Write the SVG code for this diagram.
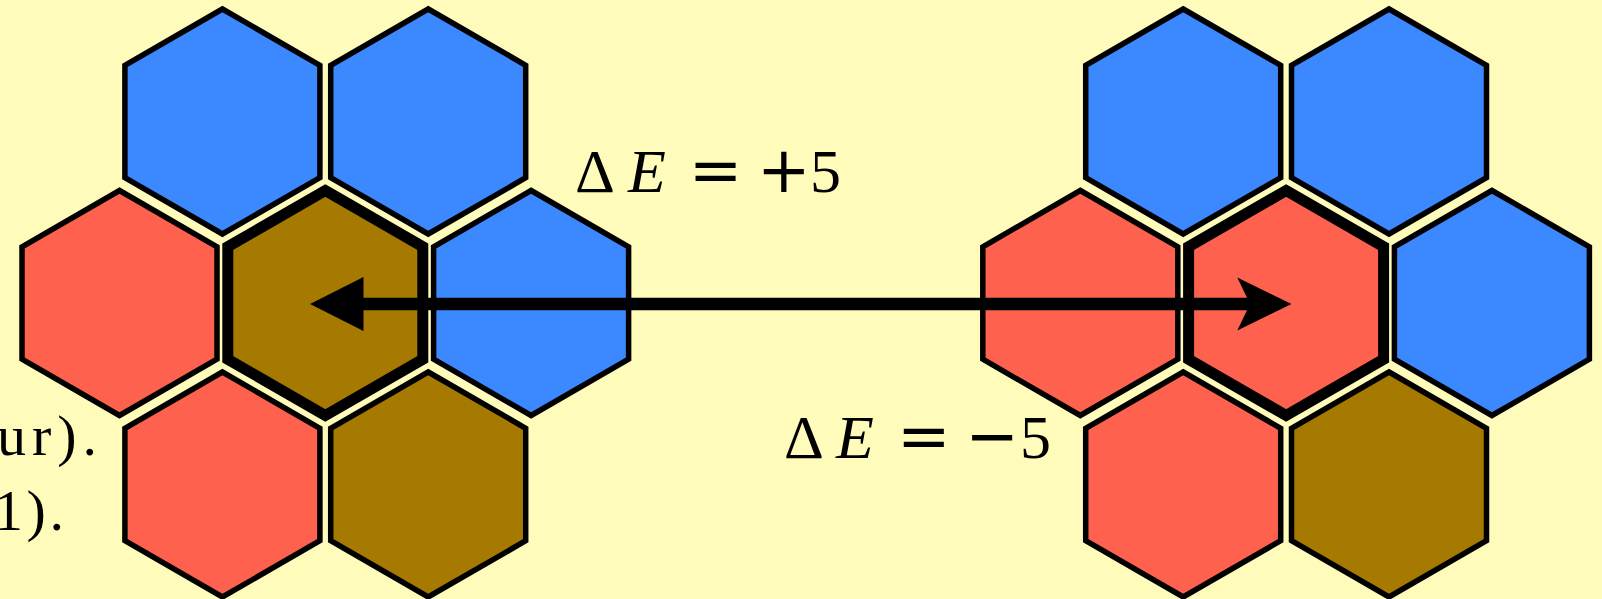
<svg xmlns="http://www.w3.org/2000/svg" width="1602" height="599" viewBox="0 0 1602 599">
<style>
.hex{stroke:#000;stroke-width:5.5;stroke-linejoin:miter}
.thick{fill:none;stroke:#000;stroke-width:11;stroke-linejoin:miter}
.blue{fill:#3C88FF}
.red{fill:#FF614F}
.brown{fill:#A67A00}
.lbl{font-family:"Liberation Serif",serif;font-size:62px;fill:#000}
.sym{font-family:"DejaVu Sans",sans-serif;font-size:64px}
.it{font-style:italic}
.side{font-family:"Liberation Serif",serif;font-size:58px;fill:#000}
</style>
<defs>
<polygon id="hex" points="0,-112.5 97.5,-56.25 97.5,56.25 0,112.5 -97.5,56.25 -97.5,-56.25"/>
<marker id="flat" markerUnits="userSpaceOnUse" viewBox="0 0 54 54" markerWidth="54" markerHeight="54" refX="30" refY="27" orient="auto">
<path d="M0,27 L53.5,0 L53.5,54 Z" fill="#000"/>
</marker>
<marker id="stealth" markerUnits="userSpaceOnUse" viewBox="0 0 54 54" markerWidth="54" markerHeight="54" refX="24.7" refY="27" orient="auto">
<path d="M54,27 L0,0.5 L12.7,27 L0,53.5 Z" fill="#000"/>
</marker>
</defs>
<rect width="1602" height="599" fill="#FFFBBB"/>
<text class="side" x="-3" y="455" textLength="100" lengthAdjust="spacing">ur).</text>
<text class="side" x="-6" y="530" textLength="70" lengthAdjust="spacing">1).</text>
<g id="left-cluster">
<g id="L-top-left"><use href="#hex" x="222.4" y="121.5" class="hex blue"/></g>
<g id="L-top-right"><use href="#hex" x="428.2" y="121.5" class="hex blue"/></g>
<g id="L-mid-left"><use href="#hex" x="119.5" y="303" class="hex red"/></g>
<g id="L-mid-right"><use href="#hex" x="531.1" y="303" class="hex blue"/></g>
<g id="L-bot-left"><use href="#hex" x="222.4" y="484.5" class="hex red"/></g>
<g id="L-bot-right"><use href="#hex" x="428.2" y="484.5" class="hex brown"/></g>
<g id="L-center"><use href="#hex" x="325.3" y="303" class="hex brown"/><use href="#hex" x="325.3" y="303" class="thick"/></g>
</g>
<g id="right-cluster">
<g id="R-top-left"><use href="#hex" x="1183.2" y="121.5" class="hex blue"/></g>
<g id="R-top-right"><use href="#hex" x="1389" y="121.5" class="hex blue"/></g>
<g id="R-mid-left"><use href="#hex" x="1080.3" y="303" class="hex red"/></g>
<g id="R-mid-right"><use href="#hex" x="1491.9" y="303" class="hex blue"/></g>
<g id="R-bot-left"><use href="#hex" x="1183.2" y="484.5" class="hex red"/></g>
<g id="R-bot-right"><use href="#hex" x="1389" y="484.5" class="hex brown"/></g>
<g id="R-center"><use href="#hex" x="1286.1" y="303" class="hex red"/><use href="#hex" x="1286.1" y="303" class="thick"/></g>
</g>
<g id="connectors">
<path d="M340,304 H1262" stroke="#000" stroke-width="12.5" fill="none" marker-start="url(#flat)" marker-end="url(#stealth)"/>
<text class="lbl" y="191.7"><tspan x="575">Δ</tspan><tspan x="628" class="it">E</tspan> <tspan x="688.7" class="sym">=</tspan> <tspan x="757" class="sym">+</tspan><tspan x="810">5</tspan></text>
<text class="lbl" y="458.3"><tspan x="784">Δ</tspan><tspan x="836" class="it">E</tspan> <tspan x="897" class="sym">=</tspan> <tspan x="965.3" class="sym">−</tspan><tspan x="1020">5</tspan></text>
</g>
</svg>
